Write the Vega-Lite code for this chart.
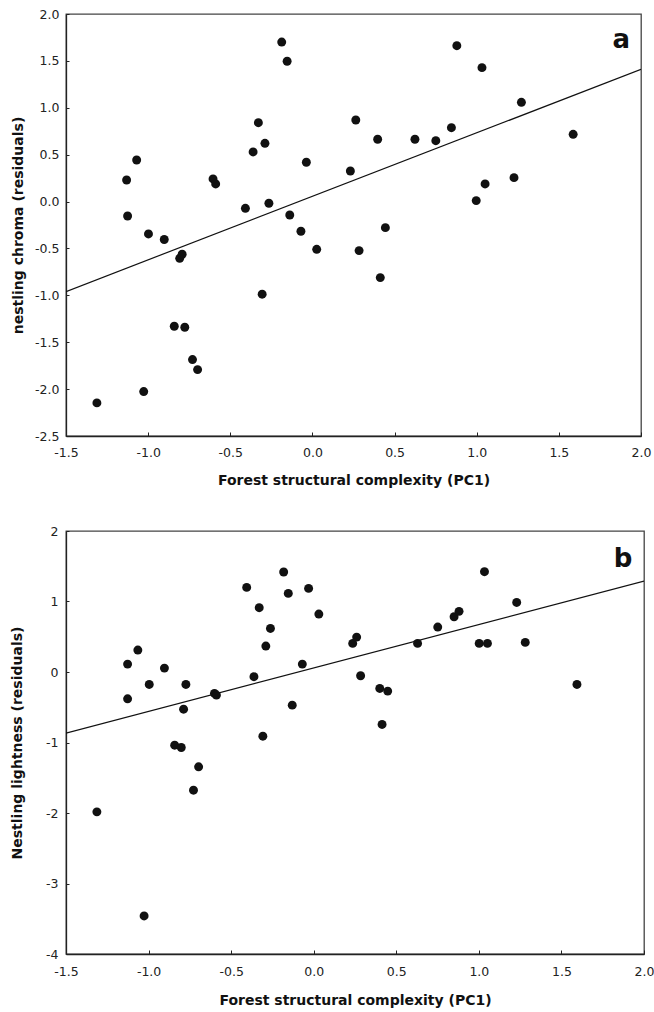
{
  "$schema": "https://vega.github.io/schema/vega-lite/v6.json",
  "padding": {"left": 9, "top": 7, "right": 0, "bottom": 5},
  "autosize": {"type": "pad"},
  "background": "white",
  "config": {
    "font": "DejaVu Sans",
    "view": {"stroke": "#444", "strokeWidth": 1.3},
    "axis": {
      "grid": false,
      "domainColor": "#222",
      "domainWidth": 1.3,
      "tickColor": "#222",
      "labelColor": "#222",
      "labelFont": "DejaVu Sans",
      "labelFontSize": 12.5,
      "labelFlush": false,
      "labelExpr": "replace(datum.label, '\u2212', '-')",
      "titleFont": "DejaVu Sans",
      "titleFontSize": 14,
      "titleFontWeight": "bold",
      "titleColor": "#111"
    }
  },
  "datasets": {
    "chroma": [
      {"pc1": -1.312, "chroma": -2.147},
      {"pc1": -1.131, "chroma": 0.230},
      {"pc1": -1.125, "chroma": -0.154},
      {"pc1": -1.070, "chroma": 0.443},
      {"pc1": -1.027, "chroma": -2.026},
      {"pc1": -0.998, "chroma": -0.345},
      {"pc1": -0.902, "chroma": -0.405},
      {"pc1": -0.841, "chroma": -1.330},
      {"pc1": -0.808, "chroma": -0.605},
      {"pc1": -0.793, "chroma": -0.562},
      {"pc1": -0.777, "chroma": -1.340},
      {"pc1": -0.730, "chroma": -1.685},
      {"pc1": -0.699, "chroma": -1.792},
      {"pc1": -0.605, "chroma": 0.241},
      {"pc1": -0.589, "chroma": 0.188},
      {"pc1": -0.408, "chroma": -0.072},
      {"pc1": -0.361, "chroma": 0.529},
      {"pc1": -0.329, "chroma": 0.841},
      {"pc1": -0.306, "chroma": -0.988},
      {"pc1": -0.289, "chroma": 0.621},
      {"pc1": -0.265, "chroma": -0.018},
      {"pc1": -0.187, "chroma": 1.701},
      {"pc1": -0.154, "chroma": 1.496},
      {"pc1": -0.138, "chroma": -0.143},
      {"pc1": -0.070, "chroma": -0.317},
      {"pc1": -0.037, "chroma": 0.419},
      {"pc1": 0.026, "chroma": -0.509},
      {"pc1": 0.231, "chroma": 0.326},
      {"pc1": 0.264, "chroma": 0.870},
      {"pc1": 0.284, "chroma": -0.523},
      {"pc1": 0.397, "chroma": 0.664},
      {"pc1": 0.413, "chroma": -0.811},
      {"pc1": 0.444, "chroma": -0.278},
      {"pc1": 0.624, "chroma": 0.664},
      {"pc1": 0.751, "chroma": 0.649},
      {"pc1": 0.846, "chroma": 0.788},
      {"pc1": 0.879, "chroma": 1.662},
      {"pc1": 0.997, "chroma": 0.010},
      {"pc1": 1.032, "chroma": 1.428},
      {"pc1": 1.051, "chroma": 0.188},
      {"pc1": 1.227, "chroma": 0.255},
      {"pc1": 1.272, "chroma": 1.058},
      {"pc1": 1.587, "chroma": 0.717}
    ],
    "chroma_fit": [
      {"pc1": -1.5, "chroma": -0.96},
      {"pc1": 2.0, "chroma": 1.41}
    ],
    "chroma_label": [
      {"pc1": 1.933, "chroma": 1.634, "label": "a"}
    ],
    "lightness": [
      {"pc1": -1.313, "lightness": -1.984},
      {"pc1": -1.127, "lightness": 0.112},
      {"pc1": -1.127, "lightness": -0.380},
      {"pc1": -1.065, "lightness": 0.311},
      {"pc1": -1.027, "lightness": -3.460},
      {"pc1": -0.996, "lightness": -0.176},
      {"pc1": -0.904, "lightness": 0.055},
      {"pc1": -0.842, "lightness": -1.038},
      {"pc1": -0.802, "lightness": -1.071},
      {"pc1": -0.788, "lightness": -0.527},
      {"pc1": -0.774, "lightness": -0.176},
      {"pc1": -0.728, "lightness": -1.676},
      {"pc1": -0.697, "lightness": -1.345},
      {"pc1": -0.601, "lightness": -0.304},
      {"pc1": -0.589, "lightness": -0.328},
      {"pc1": -0.406, "lightness": 1.200},
      {"pc1": -0.362, "lightness": -0.066},
      {"pc1": -0.330, "lightness": 0.912},
      {"pc1": -0.308, "lightness": -0.910},
      {"pc1": -0.290, "lightness": 0.368},
      {"pc1": -0.262, "lightness": 0.618},
      {"pc1": -0.182, "lightness": 1.418},
      {"pc1": -0.154, "lightness": 1.115},
      {"pc1": -0.130, "lightness": -0.470},
      {"pc1": -0.069, "lightness": 0.112},
      {"pc1": -0.031, "lightness": 1.186},
      {"pc1": 0.031, "lightness": 0.822},
      {"pc1": 0.236, "lightness": 0.406},
      {"pc1": 0.260, "lightness": 0.495},
      {"pc1": 0.284, "lightness": -0.053},
      {"pc1": 0.400, "lightness": -0.233},
      {"pc1": 0.414, "lightness": -0.744},
      {"pc1": 0.448, "lightness": -0.271},
      {"pc1": 0.629, "lightness": 0.406},
      {"pc1": 0.751, "lightness": 0.637},
      {"pc1": 0.850, "lightness": 0.784},
      {"pc1": 0.880, "lightness": 0.860},
      {"pc1": 1.002, "lightness": 0.406},
      {"pc1": 1.034, "lightness": 1.423},
      {"pc1": 1.052, "lightness": 0.406},
      {"pc1": 1.229, "lightness": 0.987},
      {"pc1": 1.281, "lightness": 0.420},
      {"pc1": 1.594, "lightness": -0.176}
    ],
    "lightness_fit": [
      {"pc1": -1.5, "lightness": -0.866},
      {"pc1": 2.0, "lightness": 1.29}
    ],
    "lightness_label": [
      {"pc1": 1.930, "lightness": 1.485, "label": "b"}
    ]
  },
  "concat": [
    {
      "width": 575,
      "height": 422,
      "layer": [
        {
          "data": {"name": "chroma_fit"},
          "mark": {"type": "line", "color": "#111", "strokeWidth": 1.2, "clip": true},
          "encoding": {
            "x": {"field": "pc1", "type": "quantitative"},
            "y": {"field": "chroma", "type": "quantitative"}
          }
        },
        {
          "data": {"name": "chroma"},
          "mark": {"type": "circle", "color": "#111", "opacity": 1, "size": 80},
          "encoding": {
            "x": {
              "field": "pc1", "type": "quantitative",
              "scale": {"domain": [-1.5, 2.0], "nice": false, "zero": false},
              "axis": {
                "title": "Forest structural complexity (PC1)",
                "values": [-1.5, -1.0, -0.5, 0.0, 0.5, 1.0, 1.5, 2.0],
                "format": ".1f",
                "tickSize": -4,
                "labelPadding": 14,
                "titlePadding": 15
              }
            },
            "y": {
              "field": "chroma", "type": "quantitative",
              "scale": {"domain": [-2.5, 2.0], "nice": false, "zero": false},
              "axis": {
                "title": "nestling chroma (residuals)",
                "values": [-2.5, -2.0, -1.5, -1.0, -0.5, 0.0, 0.5, 1.0, 1.5, 2.0],
                "format": ".1f",
                "tickSize": -3,
                "labelPadding": 10,
                "titlePadding": 9
              }
            }
          }
        },
        {
          "data": {"name": "chroma_label"},
          "mark": {"type": "text", "font": "DejaVu Sans", "fontWeight": "bold", "fontSize": 26, "align": "right", "baseline": "alphabetic", "color": "#111"},
          "encoding": {
            "x": {"field": "pc1", "type": "quantitative"},
            "y": {"field": "chroma", "type": "quantitative"},
            "text": {"field": "label"}
          }
        }
      ]
    },
    {
      "width": 578,
      "height": 423,
      "layer": [
        {
          "data": {"name": "lightness_fit"},
          "mark": {"type": "line", "color": "#111", "strokeWidth": 1.2, "clip": true},
          "encoding": {
            "x": {"field": "pc1", "type": "quantitative"},
            "y": {"field": "lightness", "type": "quantitative"}
          }
        },
        {
          "data": {"name": "lightness"},
          "mark": {"type": "circle", "color": "#111", "opacity": 1, "size": 80},
          "encoding": {
            "x": {
              "field": "pc1", "type": "quantitative",
              "scale": {"domain": [-1.5, 2.0], "nice": false, "zero": false},
              "axis": {
                "title": "Forest structural complexity (PC1)",
                "values": [-1.5, -1.0, -0.5, 0.0, 0.5, 1.0, 1.5, 2.0],
                "format": ".1f",
                "tickSize": -4,
                "labelPadding": 15,
                "titlePadding": 16
              }
            },
            "y": {
              "field": "lightness", "type": "quantitative",
              "scale": {"domain": [-4, 2], "nice": false, "zero": false},
              "axis": {
                "title": "Nestling lightness (residuals)",
                "values": [-4, -3, -2, -1, 0, 1, 2],
                "format": "d",
                "tickSize": -3,
                "labelPadding": 11,
                "titlePadding": 21
              }
            }
          }
        },
        {
          "data": {"name": "lightness_label"},
          "mark": {"type": "text", "font": "DejaVu Sans", "fontWeight": "bold", "fontSize": 26, "align": "right", "baseline": "alphabetic", "color": "#111"},
          "encoding": {
            "x": {"field": "pc1", "type": "quantitative"},
            "y": {"field": "lightness", "type": "quantitative"},
            "text": {"field": "label"}
          }
        }
      ]
    }
  ],
  "columns": 1,
  "align": "none",
  "spacing": 35
}
